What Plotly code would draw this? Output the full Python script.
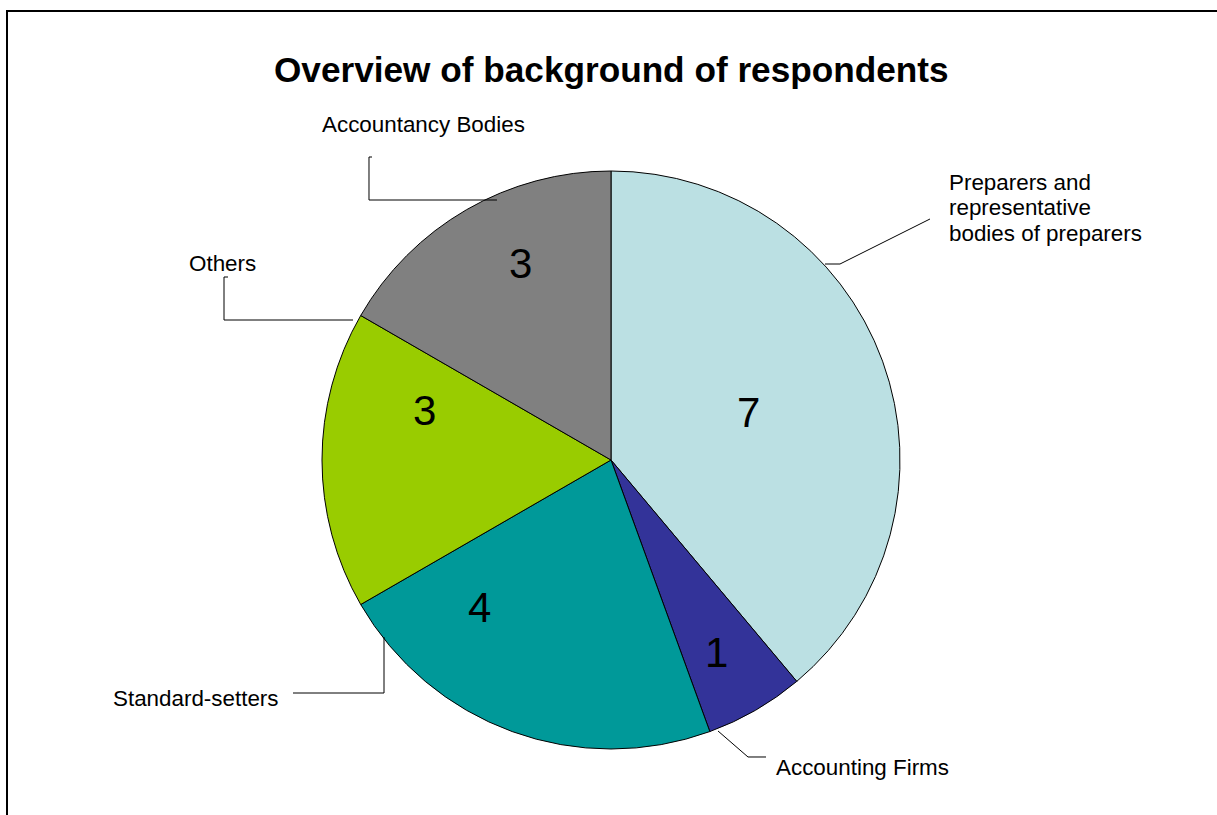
import plotly.graph_objects as go

W, H = 1217, 815

# ---- data ----
categories = [
    "Preparers and representative bodies of preparers",
    "Accounting Firms",
    "Standard-setters",
    "Others",
    "Accountancy Bodies",
]
values = [7, 1, 4, 3, 3]
colors = ["#BBE0E3", "#333399", "#009999", "#99CC00", "#808080"]
chart_title = "Overview of background of respondents"
outside_labels = [
    ["Preparers and", "representative", "bodies of preparers"],
    ["Accounting Firms"],
    ["Standard-setters"],
    ["Others"],
    ["Accountancy Bodies"],
]

FONT = "Liberation Sans, Arial, sans-serif"


def px(x, y):
    """pixel position -> paper coordinates"""
    return x / W, 1 - y / H


cx, cy, R = 611, 460, 289

fig = go.Figure(
    go.Pie(
        labels=categories,
        values=values,
        sort=False,
        direction="clockwise",
        rotation=0,
        marker=dict(colors=colors, line=dict(color="black", width=1)),
        textinfo="none",
        hoverinfo="label+value",
        showlegend=False,
        domain=dict(x=[(cx - R) / W, (cx + R) / W], y=[1 - (cy + R) / H, 1 - (cy - R) / H]),
    )
)

annotations = []

# title
tx, ty = px(611.5, 70)
annotations.append(dict(x=tx, y=ty, xref="paper", yref="paper", text="<b>" + chart_title + "</b>",
                        showarrow=False, xanchor="center", yanchor="middle",
                        font=dict(family=FONT, size=35.2, color="black")))

# value labels inside slices
value_pos = [(748, 412), (716, 652), (479, 607), (424, 410), (520, 263)]
for v, (x, y) in zip(values, value_pos):
    ax, ay = px(x, y)
    annotations.append(dict(x=ax, y=ay, xref="paper", yref="paper", text=str(v), showarrow=False,
                            xanchor="center", yanchor="middle",
                            font=dict(family=FONT, size=42, color="black")))

# outside category labels (x, first-line y, x anchor)
label_pos = [
    (947, 182, "left"),
    (774, 767, "left"),
    (196, 698, "center"),
    (223, 263, "center"),
    (423, 124, "center"),
]
LINE_STEP = 25.5
for lines, (x, y, xa) in zip(outside_labels, label_pos):
    for k, t in enumerate(lines):
        ax, ay = px(x, y + k * LINE_STEP)
        annotations.append(dict(x=ax, y=ay, xref="paper", yref="paper", text=t, showarrow=False,
                                xanchor=xa, yanchor="middle",
                                font=dict(family=FONT, size=22.4, color="black")))

# leader lines
leaders = [
    [(825, 264), (840, 264), (930, 219)],
    [(718, 731), (748, 757), (766, 757)],
    [(293, 693), (384, 693), (384, 637)],
    [(228, 277), (224, 277), (224, 320), (353, 320)],
    [(372, 157), (369, 157), (369, 200), (497, 200)],
]
shapes = []
for pts in leaders:
    path = ""
    for i, (x, y) in enumerate(pts):
        X, Y = px(x, y)
        path += ("M" if i == 0 else " L") + f" {X:.5f} {Y:.5f}"
    shapes.append(dict(type="path", xref="paper", yref="paper", path=path,
                       line=dict(color="black", width=1)))

# outer frame
fx0, fy0 = px(7, 11)
fx1, fy1 = px(1230, 830)
shapes.append(dict(type="rect", xref="paper", yref="paper", x0=fx0, y0=fy1, x1=fx1, y1=fy0,
                   line=dict(color="black", width=2), fillcolor="rgba(0,0,0,0)"))

fig.update_layout(
    width=W,
    height=H,
    margin=dict(l=0, r=0, t=0, b=0),
    paper_bgcolor="white",
    plot_bgcolor="white",
    annotations=annotations,
    shapes=shapes,
    font=dict(family=FONT),
)

fig.write_html("out.html")
